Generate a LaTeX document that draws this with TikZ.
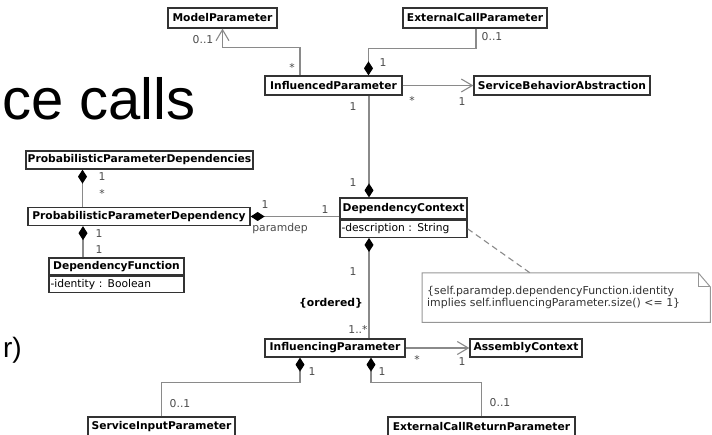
\documentclass[tikz,border=0pt]{standalone}
\usepackage{fontspec}
\newfontfamily\umlfont{DejaVu Sans}
\newfontfamily\slidefont{Liberation Sans}
\usetikzlibrary{positioning,arrows.meta}
\definecolor{lgray}{HTML}{8A8A8A}
\definecolor{mgray}{HTML}{4A4A4A}
\definecolor{bline}{HTML}{333333}
\tikzset{
  cls/.style={draw=bline, fill=white, line width=1.3pt, font=\umlfont\fontsize{10.7}{12}\selectfont\bfseries, inner sep=0pt, minimum height=18pt},
  attr/.style={draw=bline, fill=white, line width=1.3pt, font=\umlfont\fontsize{10.7}{12}\selectfont, inner xsep=1.5pt, inner ysep=0pt, minimum height=17pt, align=left, anchor=north west},
  mult/.style={font=\umlfont\fontsize{10.8}{12}\selectfont, text=mgray, inner sep=0pt},
  cons/.style={font=\umlfont\fontsize{10.8}{12}\selectfont\bfseries, inner sep=0pt},
  ln/.style={draw=lgray, line width=1.1pt},
  nav/.style={ln, -{Straight Barb[length=11pt,width=13pt,line width=1.1pt]}},
  comp/.style={ln, -{Diamond[length=14pt,width=9pt,color=black]}},
  notetx/.style={font=\umlfont\fontsize{10.9}{11.7}\selectfont, text=bline, inner xsep=5pt, inner ysep=0pt, text width=278pt, align=left, minimum height=49pt, anchor=north west},
  noteln/.style={draw=lgray!90, line width=1pt},
  slide/.style={font=\slidefont, inner sep=0pt},
}
\begin{document}
\begin{tikzpicture}[x=1pt, y=-1pt]
\useasboundingbox (0,0) rectangle (712,435);
\node[slide, anchor=base west, font=\slidefont\fontsize{58}{62}\selectfont] (ttl) at (2,120) {ce calls};
\node[slide, anchor=base east, font=\slidefont\fontsize{28}{30}\selectfont] (tail) at (22,358) {r)};

\node[cls, minimum width=109pt, minimum height=20pt] (modp) at (222.5,18) {ModelParameter};
\node[cls, minimum width=144pt, minimum height=20pt] (ecp) at (475,18) {ExternalCallParameter};
\node[cls, minimum width=137pt, minimum height=19pt] (inflp) at (333.5,85.5) {InfluencedParameter};
\node[cls, minimum width=176pt, minimum height=19pt] (sba) at (562,85.5) {ServiceBehaviorAbstraction};
\node[cls, minimum width=227pt] (ppds) at (139.5,160) {ProbabilisticParameterDependencies};
\node[cls, minimum width=222pt] (ppd) at (139,216.5) {ProbabilisticParameterDependency};
\node[cls, minimum width=127pt, minimum height=21pt] (dc) at (403.5,208.5) {DependencyContext};
\node[attr, text width=124pt] (dcattr) at (dc.south west) {-description : String};
\node[cls, minimum width=135pt, minimum height=17pt] (df) at (116.5,266.5) {DependencyFunction};
\node[attr, text width=132pt, minimum height=16pt] (dfattr) at (df.south west) {-identity : Boolean};
\node[cls, minimum width=140pt] (inflg) at (335,348) {InfluencingParameter};
\node[cls, minimum width=112pt] (ac) at (526,348) {AssemblyContext};
\node[cls, minimum width=147pt, minimum height=20pt] (sip) at (161.5,427) {ServiceInputParameter};
\node[cls, minimum width=187pt, minimum height=20pt] (ecrp) at (481.5,427) {ExternalCallReturnParameter};

\node[notetx] (note) at (422,273) {\{self.paramdep.dependencyFunction.identity\\implies self.influencingParameter.size() <= 1\}};
\draw[noteln] (note.north west) -- ([xshift=-12pt]note.north east) -- ([yshift=-14pt]note.north east) -- (note.south east) -- (note.south west) -- cycle;
\draw[noteln] ([xshift=-12pt]note.north east) |- ([yshift=-14pt]note.north east);

\draw[nav] ([xshift=-33.5pt]inflp.north) -- ++(0,-28) -| (modp.south);
\draw[comp] ([xshift=1pt]ecp.south) -- ++(0,20) -| ([xshift=35pt]inflp.north);
\draw[nav] (inflp.east) -- (sba.west);
\draw[comp] ([xshift=35.5pt]inflp.south) -- ([xshift=35.5pt]inflp.south |- dc.north);
\draw[comp] ([xshift=-56.5pt]ppd.north) -- ([xshift=-56.5pt]ppd.north |- ppds.south);
\draw[comp] (dc.west |- ppd.east) -- (ppd.east);
\draw[comp] ([xshift=-33.5pt]df.north) -- ([xshift=-33.5pt]df.north |- ppd.south);
\draw[comp] ([xshift=34pt]inflg.north) -- ([xshift=34pt]inflg.north |- dcattr.south);
\draw[ln, dash pattern=on 6pt off 4pt] (dcattr.east) -- ([xshift=-36pt]note.north);
\draw[nav] (inflg.east) -- (ac.west);
\draw[comp] (sip.north) -- ++(0,-34) -| ([xshift=-35pt]inflg.south);
\draw[comp] (ecrp.north) -- ++(0,-34) -| ([xshift=36pt]inflg.south);

\node[mult] (m1) at (203,40) {0..1};
\node[mult] (m2) at (292,67) {*};
\node[mult] (m3) at (383,63) {1};
\node[mult] (m4) at (492,37) {0..1};
\node[mult] (m5) at (412,100) {*};
\node[mult] (m6) at (462,102) {1};
\node[mult] (m7) at (353,107) {1};
\node[mult] (m8) at (353,183) {1};
\node[mult] (m9) at (102,177) {1};
\node[mult] (m10) at (102,193) {*};
\node[mult] (m11) at (265,205) {1};
\node[mult] (m12) at (325,210) {1};
\node[mult] (role) at (280,229) {paramdep};
\node[mult] (m13) at (99,234) {1};
\node[mult] (m14) at (99,250) {1};
\node[mult] (m15) at (353,272) {1};
\node[cons] (ord) at (331,303) {\{ordered\}};
\node[mult] (m16) at (358,329) {1..*};
\node[mult] (m17) at (417,359) {*};
\node[mult] (m18) at (462,362) {1};
\node[mult] (m19) at (312,372) {1};
\node[mult] (m20) at (382,372) {1};
\node[mult] (m21) at (180,404) {0..1};
\node[mult] (m22) at (500,403) {0..1};
\end{tikzpicture}
\end{document}
